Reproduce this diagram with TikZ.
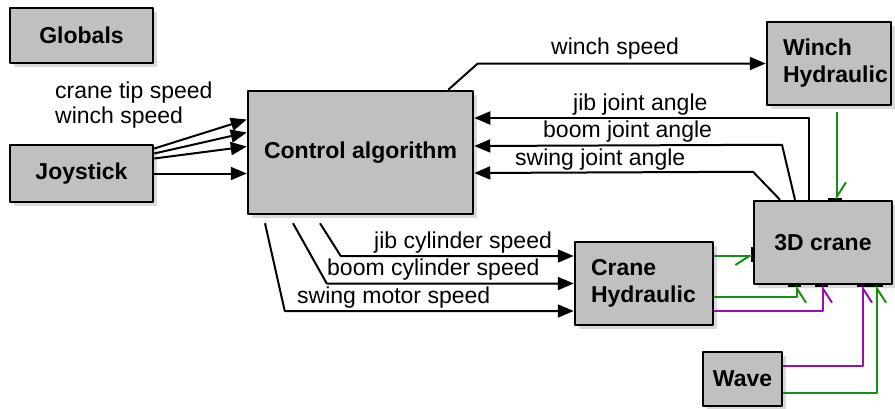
\documentclass[tikz,border=0pt]{standalone}
\usepackage{fontspec}
\setmainfont{Liberation Sans}
\usetikzlibrary{arrows.meta,calc,shadows}
\definecolor{boxgray}{RGB}{192,192,192}
\definecolor{sig}{RGB}{20,145,20}
\definecolor{purp}{RGB}{150,20,165}
\definecolor{shad}{RGB}{218,218,218}
\begin{document}
\begin{tikzpicture}[x=1pt,y=-1pt,line join=round,
  box/.style={draw=black, line width=2.5pt, fill=boxgray, font=\bfseries\fontsize{23}{27}\selectfont, inner sep=0pt,
    drop shadow={shadow xshift=4pt, shadow yshift=-4pt, fill=shad, opacity=1}},
  lbl/.style={font=\fontsize{23}{27}\selectfont, inner sep=0pt},
  arr/.style={line width=2pt, -{Triangle[length=16pt,width=13pt]}},
  gbarb/.style={-{Straight Barb[harpoon,swap,length=14pt,width=18pt]}},
  gbarbn/.style={-{Straight Barb[harpoon,length=14pt,width=18pt]}},
  gar/.style={line width=2pt, draw=sig, gbarb},
  par/.style={line width=2pt, draw=purp, gbarb},
  port/.style={line width=4pt, draw=black}]
\useasboundingbox (0,0) rectangle (895,408);
% boxes
\node[box, minimum width=143pt, minimum height=55pt] (glob) at (81.5,35.5) {Globals};
\node[box, minimum width=143pt, minimum height=57pt] (joy) at (81.5,173.5) {Joystick};
\node[box, minimum width=225pt, minimum height=123pt] (ctrl) at (360.5,152.5) {Control algorithm};
\node[box, minimum width=124pt, minimum height=83pt, text width=92pt, inner xsep=16pt, align=left] (winch) at (829,63.5) {Winch\\Hydraulic};
\node[box, minimum width=138pt, minimum height=83pt] (crane) at (823,242.5) {3D crane};
\node[box, minimum width=138pt, minimum height=83pt, text width=106pt, inner xsep=16pt, align=left] (ch) at (644,283.5) {Crane\\Hydraulic};
\node[box, minimum width=79pt, minimum height=54pt] (wave) at (742.5,379) {Wave};
% labels
\node[lbl, anchor=base west] (l1) at (55,98) {crane tip speed};
\node[lbl, anchor=base west] (l2) at (55,123) {winch speed};
\node[lbl, anchor=base west] (l3) at (551,54) {winch speed};
\node[lbl, anchor=base west] (l4) at (573,110) {jib joint angle};
\node[lbl, anchor=base west] (l5) at (543,137) {boom joint angle};
\node[lbl, anchor=base west] (l6) at (515,165) {swing joint angle};
\node[lbl, anchor=base west] (l7) at (374,248) {jib cylinder speed};
\node[lbl, anchor=base west] (l8) at (327,275) {boom cylinder speed};
\node[lbl, anchor=base west] (l9) at (297,303) {swing motor speed};
% joystick -> control
\draw[arr] ($(joy.east)+(0,-25)$) -- ($(ctrl.west)+(0,-33)$);
\draw[arr] ($(joy.east)+(0,-20)$) -- ($(ctrl.west)+(0,-20)$);
\draw[arr] ($(joy.east)+(0,-15)$) -- ($(ctrl.west)+(0,-6)$);
\draw[arr] (joy.east) -- (joy.east -| ctrl.west);
% control -> winch
\draw[arr] ($(ctrl.north east)+(-26,0)$) -- ($(winch.west)+(-288,0)$) -- (winch.west);
% crane -> control
\draw[arr] ($(crane.north)+(-14,0)$) |- ($(ctrl.east)+(0,-34.5)$);
\draw[arr] ($(crane.north)+(-28,0)$) -- ($(crane.north)+(-41,-55)$) -- ($(ctrl.east)+(0,-6.5)$);
\draw[arr] ($(crane.north)+(-43,0)$) -- ($(crane.north)+(-70,-28)$) -- ($(ctrl.east)+(0,20.5)$);
% control -> crane hydraulic
\draw[arr] ($(ctrl.south)+(-40.5,8)$) -- ($(ch.west)+(-233,-27.5)$) -- ($(ch.west)+(0,-27.5)$);
\draw[arr] ($(ctrl.south)+(-67.5,8)$) -- ($(ch.west)+(-247,0)$) -- (ch.west);
\draw[arr] ($(ctrl.south)+(-95.5,8)$) -- ($(ch.west)+(-289,27.5)$) -- ($(ch.west)+(0,27.5)$);
% ports
\draw[port] ($(crane.south)+(-35,0)$) -- ++(13,0);
\draw[port] ($(crane.south)+(-8,0)$) -- ++(13,0);
\draw[port] ($(crane.south)+(34,0)$) -- ++(26,0);
\draw[port] ($(crane.north)+(5,0)$) -- ++(14,0);
\draw[port] ($(crane.west)+(0,4.5)$) -- ++(0,15);
% signal lines
\draw[gar] ($(ch.east)+(0,-27.5)$) -- ($(crane.west)+(0,13.5)$);
\draw[gar] ($(ch.east)+(0,13.5)$) -| ($(crane.south)+(-26,0)$);
\draw[par] ($(ch.east)+(0,27.5)$) -| (crane.south);
\draw[par] ($(wave.east)+(0,-13)$) -| ($(crane.south)+(40,0)$);
\draw[gar] ($(wave.east)+(0,14)$) -| ($(crane.south)+(54,0)$);
\draw[gar, gbarbn] ($(winch.south)+(8,6)$) -- ($(crane.north)+(14,0)$);
\end{tikzpicture}
\end{document}
